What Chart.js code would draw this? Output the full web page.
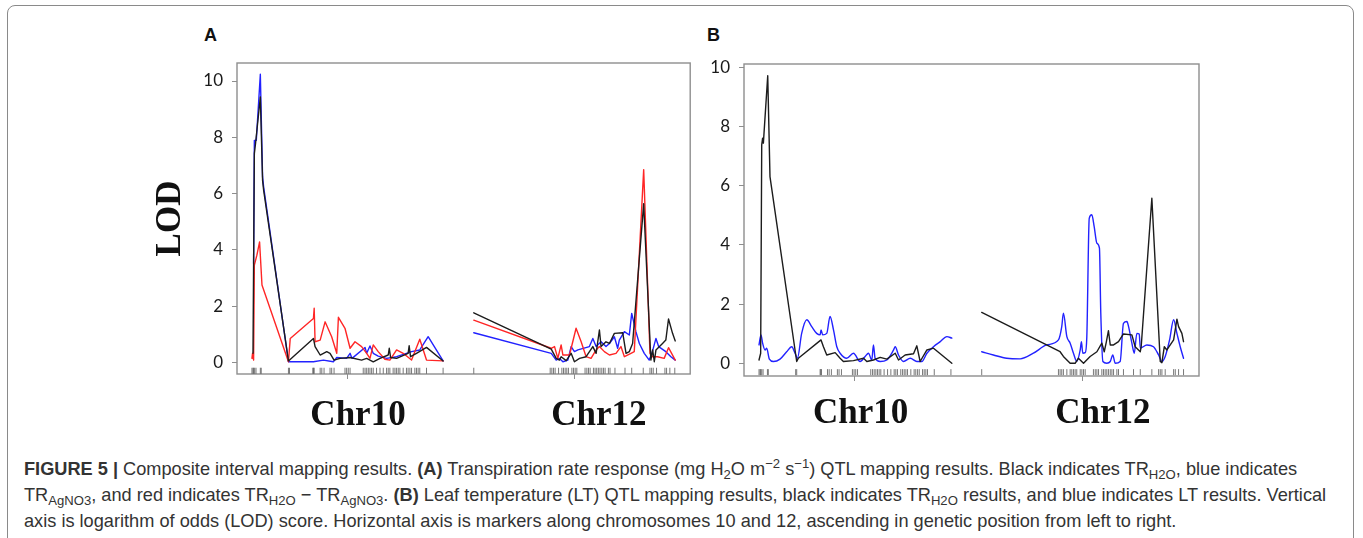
<!DOCTYPE html>
<html>
<head>
<meta charset="utf-8">
<script src="https://cdn.jsdelivr.net/npm/chart.js@4.4.1/dist/chart.umd.min.js"></script>
<style>
  html, body { margin: 0; padding: 0; background: #fff; }
  body { width: 1363px; height: 538px; position: relative; overflow: hidden; }
  #frame { position: absolute; left: 7px; top: 5px; width: 1345px; height: 600px;
           border: 1.5px solid #8a8a8a; border-radius: 8px; }
  .panel-tag { position: absolute; font: bold 18px "Liberation Sans", Arial, sans-serif; color: #111; }
  canvas { position: absolute; }
  #caption { position: absolute; left: 24px; top: 457px; font-family: "Liberation Sans", Arial, sans-serif;
             font-size: 18.2px; color: #333; line-height: 25.8px; white-space: nowrap; }
  #caption sub, #caption sup { font-size: 0.72em; line-height: 0; }
  #caption sub { vertical-align: -0.3em; }
  #caption sup { vertical-align: 0.55em; }
</style>
</head>
<body>
<div id="frame"></div>
<div class="panel-tag" style="left:204px; top:25px;">A</div>
<div class="panel-tag" style="left:707px; top:25px;">B</div>
<canvas id="chartA" width="545" height="400" style="left:150px; top:40px;"></canvas>
<canvas id="chartB" width="510" height="400" style="left:695px; top:40px;"></canvas>
<div id="caption">
  <div><b>FIGURE 5 |</b> Composite interval mapping results. <b>(A)</b> Transpiration rate response (mg H<sub>2</sub>O m<sup>−2</sup> s<sup>−1</sup>) QTL mapping results. Black indicates TR<sub>H2O</sub>, blue indicates</div>
  <div>TR<sub>AgNO3</sub>, and red indicates TR<sub>H2O</sub> − TR<sub>AgNO3</sub>. <b>(B)</b> Leaf temperature (LT) QTL mapping results, black indicates TR<sub>H2O</sub> results, and blue indicates LT results. Vertical</div>
  <div>axis is logarithm of odds (LOD) score. Horizontal axis is markers along chromosomes 10 and 12, ascending in genetic position from left to right.</div>
</div>
<script>
// marker positions along each chromosome (cM)
var chr10Markers = [0, 0.7, 1.1, 1.8, 2.7, 5.6, 6.2, 24.4, 25.1, 40.7, 41.1, 41.6, 45.6, 46.7, 48.2, 52.2, 53.3, 54.9, 62.2, 63.3, 64.4, 65.6, 74.4, 75.6, 76.7, 77.8, 78.9, 80.0, 81.1, 83.3, 85.6, 87.8, 90.0, 91.1, 92.2, 94.4, 95.6, 96.7, 97.8, 98.9, 101.1, 103.3, 104.4, 105.6, 106.7, 108.9, 110.0, 111.1, 112.2, 116.7, 127.8];
var chr12Markers = [0, 51.1, 52.2, 53.3, 54.4, 56.7, 58.9, 60.0, 61.1, 62.2, 63.3, 65.6, 66.7, 67.8, 68.9, 74.4, 75.6, 76.7, 77.8, 80.0, 81.1, 82.2, 83.3, 84.4, 85.6, 86.7, 87.8, 90.0, 91.1, 94.4, 101.1, 105.6, 113.3, 117.8, 118.9, 120.0, 122.2, 127.8, 128.9, 131.1, 134.4];
var chrNames = ['Chr10', 'Chr12'];
var chr10Length = 127.8;
var chr12Length = 134.7;
var lodTicks = [0, 2, 4, 6, 8, 10];
// where the chromosome names sit on the position axis in each panel
var chrLabelPosA = [70.9, 231.9];
var chrLabelPosB = [67.7, 229.0];

// Panel A: TR H2O (black), TR AgNO3 (blue), TR H2O - TR AgNO3 (red)
var aBlack10Pos = [0.7, 1.6, 2.4, 5.6, 7.1, 7.8, 24.4, 41.1, 42.2, 45.6, 50.0, 52.2, 54.9, 58.9, 65.6, 73.3, 76.7, 81.1, 85.6, 91.1, 91.8, 92.7, 96.7, 104.4, 105.1, 106.0, 110.0, 116.7, 127.8];
var aBlack10Lod = [0.32, 7.42, 7.78, 9.43, 6.47, 6.12, 0.05, 0.85, 0.56, 0.26, 0.38, 0.32, 0.08, 0.14, 0.17, 0.08, 0.14, 0.02, 0.14, 0.26, 0.50, 0.17, 0.14, 0.32, 0.59, 0.20, 0.32, 0.53, 0.05];
var aBlue10Pos = [1.1, 1.6, 2.9, 5.6, 7.1, 7.8, 24.4, 41.1, 47.8, 54.4, 56.7, 63.3, 65.6, 66.9, 75.6, 76.7, 78.9, 81.1, 84.4, 90.0, 96.7, 103.3, 106.7, 112.2, 117.8, 127.8];
var aBlue10Lod = [3.51, 7.89, 7.89, 10.24, 6.59, 6.24, 0.02, 0.02, 0.08, 0.02, 0.17, 0.14, 0.32, 0.14, 0.53, 0.32, 0.58, 0.32, 0.22, 0.14, 0.20, 0.32, 0.38, 0.44, 0.91, 0.05];
var aRed10Pos = [0, 0.4, 1.1, 1.6, 3.3, 5.1, 6.7, 24.4, 25.6, 41.1, 41.6, 42.2, 45.6, 48.9, 53.3, 56.7, 57.8, 62.2, 65.6, 68.9, 73.3, 76.7, 78.9, 81.1, 84.4, 88.9, 92.2, 96.7, 101.1, 106.7, 112.2, 116.7, 127.8];
var aRed10Lod = [0.14, 0.32, 0.08, 3.46, 3.81, 4.28, 2.75, 0.02, 0.85, 1.56, 1.92, 0.73, 0.79, 1.44, 0.91, 0.32, 1.60, 1.21, 0.50, 0.73, 0.56, 0.32, 0.14, 0.62, 0.38, 0.11, 0.08, 0.44, 0.32, 0.08, 0.82, 0.08, 0.05];
var aBlack12Pos = [0, 51.8, 55.1, 57.3, 58.4, 61.8, 65.1, 67.3, 70.7, 75.1, 79.6, 81.8, 84.0, 85.1, 88.4, 90.7, 94.0, 99.6, 101.8, 104.0, 106.2, 113.6, 118.4, 119.6, 120.7, 121.8, 126.2, 128.4, 130.2, 132.9, 134.7];
var aBlack12Lod = [1.76, 0.47, 0.14, 0.08, 0.20, 0.06, 0.32, 0.02, 0.14, 0.20, 0.56, 0.32, 1.15, 0.56, 0.73, 0.67, 1.03, 1.05, 0.32, 0.38, 0.67, 5.64, 0.08, 0.44, 0.02, 0.44, 0.67, 0.79, 1.54, 1.03, 0.76];
var aRed12Pos = [0, 51.8, 54.0, 56.2, 58.4, 59.6, 64.0, 68.4, 71.8, 75.1, 78.4, 81.8, 84.0, 87.3, 90.7, 95.1, 98.4, 100.7, 105.1, 107.3, 113.6, 117.8, 119.6, 122.9, 127.3, 130.2, 134.7];
var aRed12Lod = [1.50, 0.50, 0.56, 0.14, 0.62, 0.26, 0.26, 1.21, 0.73, 0.20, 0.14, 0.44, 0.56, 0.38, 0.26, 0.32, 0.56, 0.20, 0.32, 0.38, 6.85, 0.32, 0.20, 0.20, 0.14, 0.52, 0.08];
var aBlue12Pos = [0, 51.8, 55.1, 57.3, 59.6, 62.9, 65.1, 67.3, 69.6, 77.3, 79.6, 81.8, 85.1, 88.4, 90.7, 94.0, 96.2, 97.3, 100.7, 104.0, 105.6, 108.4, 110.7, 114.0, 117.3, 119.1, 121.8, 123.6, 128.4, 131.8, 134.7];
var aBlue12Lod = [1.05, 0.32, 0.08, 0.14, 0.02, 0.08, 0.56, 0.38, 0.44, 0.56, 0.85, 0.56, 0.73, 0.56, 0.67, 0.91, 0.50, 0.79, 1.09, 0.97, 1.74, 1.09, 0.67, 0.32, 0.08, 0.32, 0.85, 0.56, 0.38, 0.20, 0.08];

// Panel B: TR H2O (black), leaf temperature (blue)
var bBlack10Pos = [0, 1.1, 1.8, 2.4, 2.9, 5.8, 7.3, 25.1, 26.2, 41.3, 42.9, 45.1, 50.7, 54.0, 56.2, 62.9, 69.6, 71.8, 76.2, 80.7, 85.1, 90.7, 92.9, 97.3, 102.9, 105.1, 107.3, 111.8, 116.2, 128.4];
var bBlack10Lod = [0.11, 0.34, 7.38, 7.61, 7.44, 9.72, 6.31, 0.06, 0.17, 0.79, 0.56, 0.28, 0.36, 0.17, 0.06, 0.09, 0.17, 0.06, 0.11, 0.20, 0.14, 0.34, 0.11, 0.28, 0.32, 0.59, 0.06, 0.45, 0.51, 0.0];
var bBlue10Pos = [0, 1.3, 2.4, 4.0, 5.1, 6.9, 9.6, 14.0, 18.4, 21.8, 24.0, 25.6, 28.4, 31.8, 35.1, 38.4, 40.7, 41.3, 42.4, 45.1, 47.3, 49.6, 51.8, 54.0, 58.4, 62.9, 67.3, 70.7, 72.9, 75.1, 76.2, 77.3, 80.7, 85.1, 89.6, 90.7, 92.9, 96.2, 100.7, 105.1, 108.4, 111.8, 116.2, 120.7, 125.1, 128.4];
var bBlue10Lod = [0.62, 0.96, 0.68, 0.45, 0.51, 0.14, 0.06, 0.14, 0.39, 0.56, 0.34, 0.17, 1.01, 1.47, 1.24, 1.01, 0.96, 1.13, 0.96, 1.01, 1.58, 1.13, 0.56, 0.34, 0.17, 0.34, 0.06, 0.23, 0.34, 0.11, 0.62, 0.17, 0.06, 0.11, 0.45, 0.56, 0.28, 0.06, 0.17, 0.06, 0.06, 0.34, 0.56, 0.73, 0.90, 0.85];
var bBlack12Pos = [0, 52.2, 54.4, 58.9, 62.2, 64.4, 67.8, 72.2, 76.7, 80.0, 81.6, 82.9, 84.4, 85.6, 87.8, 91.1, 94.4, 100.0, 102.2, 105.6, 106.2, 113.3, 118.9, 120.0, 121.6, 123.3, 127.8, 130.0, 131.1, 133.3, 134.4];
var bBlack12Lod = [1.72, 0.39, 0.23, 0, 0, 0.17, 0, 0.23, 0.39, 0.68, 0.39, 0.70, 1.10, 0.62, 0.62, 0.73, 0.99, 0.96, 0.56, 0.39, 0.56, 5.58, 0.06, 0.02, 0.56, 0.45, 0.79, 1.49, 1.24, 1.01, 0.73];
var bBlue12Pos = [0, 7.8, 16.7, 25.6, 34.4, 43.3, 51.1, 53.3, 54.4, 56.7, 58.9, 61.1, 63.3, 65.6, 66.4, 67.3, 68.9, 70.0, 71.6, 73.3, 74.9, 76.7, 78.4, 79.3, 80.7, 83.3, 85.6, 87.3, 88.9, 92.2, 94.4, 96.7, 97.8, 100.0, 101.6, 103.3, 104.9, 105.6, 110.0, 114.4, 117.8, 120.0, 122.2, 125.1, 127.8, 130.0, 132.2, 134.4];
var bBlue12Lod = [0.39, 0.28, 0.17, 0.15, 0.34, 0.62, 0.79, 1.24, 1.69, 0.90, 0.68, 0.34, 0.06, 0.45, 0.73, 0.34, 0.36, 0.90, 4.90, 5.02, 4.62, 4.06, 3.89, 1.69, 0.06, 0, 0.06, 0.28, 0, 0.06, 1.35, 1.41, 1.24, 0.68, 0.34, 1.01, 0.99, 0.51, 0.62, 0.56, 0.28, 0.06, 0.23, 0.79, 1.47, 1.01, 0.56, 0.17];

// chr12 is drawn after chr10 with a gap, like the qtl plot does
var CHR12_OFFSET = 148.3;
var X_MIN = -10, X_MAX = 293;
var BLACK = '#1c1c1c', BLUE = '#2222ff', RED = '#ff2626';
var AXIS_GREY = '#8e8e8e';
var serifBold = {family: 'Liberation Serif', size: 35, weight: 'bold'};

function toPoints(pos, lod, offset) {
    return pos.map(function (p, i) { return {x: p + offset, y: lod[i]}; });
}

function lodLine(pos10, lod10, pos12, lod12, color, smooth) {
    // one dataset for each chromosome so the gap is not joined
    return [
        {data: toPoints(pos10, lod10, 0), borderColor: color, borderWidth: 1.4, pointRadius: 0,
         tension: smooth ? 0.4 : 0, cubicInterpolationMode: smooth ? 'monotone' : 'default'},
        {data: toPoints(pos12, lod12, CHR12_OFFSET), borderColor: color, borderWidth: 1.4, pointRadius: 0,
         tension: smooth ? 0.4 : 0, cubicInterpolationMode: smooth ? 'monotone' : 'default'}
    ];
}

function rugData(yVal) {
    var pts = chr10Markers.map(function (p) { return {x: p, y: yVal}; });
    return pts.concat(chr12Markers.map(function (p) { return {x: p + CHR12_OFFSET, y: yVal}; }));
}

var boxFrame = {
    id: 'boxFrame',
    beforeDatasetsDraw: function (chart) {
        var a = chart.chartArea, ctx = chart.ctx;
        ctx.save();
        ctx.strokeStyle = AXIS_GREY;
        ctx.lineWidth = 1.4;
        ctx.strokeRect(a.left, a.top, a.right - a.left, a.bottom - a.top);
        ctx.restore();
    }
};

function makePanel(id, lines, p) {
    var rug = {type: 'scatter', data: rugData(p.rugY), showLine: false, pointStyle: 'line',
               rotation: 90, radius: 3, borderColor: '#555', borderWidth: 0.8};
    var chrCenters = [chr10Length / 2, CHR12_OFFSET + chr12Length / 2];
    return new Chart(document.getElementById(id), {
        type: 'line',
        data: {datasets: lines.concat([rug])},
        options: {
            responsive: false,
            animation: false,
            devicePixelRatio: 1,
            layout: {padding: {top: p.padTop, right: p.padRight, left: 0, bottom: 0}},
            plugins: {legend: {display: false}, tooltip: {enabled: false}},
            elements: {line: {borderJoinStyle: 'round', borderCapStyle: 'round'}},
            scales: {
                // small tick marks at the middle of each chromosome
                x: {
                    type: 'linear', min: X_MIN, max: X_MAX, position: 'bottom', weight: 0,
                    afterBuildTicks: function (s) { s.ticks = chrCenters.map(function (v) { return {value: v}; }); },
                    afterFit: function (s) { s.height = 6; },
                    grid: {drawOnChartArea: false, tickLength: 5, color: AXIS_GREY},
                    border: {display: false},
                    ticks: {display: false}
                },
                // chromosome names
                xName: {
                    type: 'linear', min: X_MIN, max: X_MAX, position: 'bottom', weight: 1,
                    afterBuildTicks: function (s) { s.ticks = p.labelPos.map(function (v) { return {value: v}; }); },
                    afterFit: function (s) { s.height = p.xHeight - 6; },
                    grid: {display: false, drawTicks: false},
                    border: {display: false},
                    ticks: {autoSkip: false, maxRotation: 0, padding: p.xPad, color: '#111', font: serifBold,
                            callback: function (v, i) { return chrNames[i]; }}
                },
                y: {
                    min: p.yMin, max: p.yMax,
                    afterBuildTicks: function (s) { s.ticks = lodTicks.map(function (v) { return {value: v}; }); },
                    afterFit: function (s) { s.width = p.yWidth; },
                    grid: {drawOnChartArea: false, tickLength: 5, color: AXIS_GREY},
                    border: {display: false},
                    ticks: {padding: 9, color: '#1a1a1a', font: {family: 'Lato', size: 17}},
                    title: {display: p.title, text: 'LOD', padding: 0, color: '#111', font: serifBold}
                }
            }
        },
        plugins: [boxFrame]
    });
}

var linesA = [].concat(
    lodLine(aBlack10Pos, aBlack10Lod, aBlack12Pos, aBlack12Lod, BLACK, false),
    lodLine(aRed10Pos, aRed10Lod, aRed12Pos, aRed12Lod, RED, false),
    lodLine(aBlue10Pos, aBlue10Lod, aBlue12Pos, aBlue12Lod, BLUE, false)
);
var linesB = [].concat(
    lodLine(bBlack10Pos, bBlack10Lod, bBlack12Pos, bBlack12Lod, BLACK, false),
    lodLine(bBlue10Pos, bBlue10Lod, bBlue12Pos, bBlue12Lod, BLUE, true)
);

makePanel('chartA', linesA, {yMin: -0.415, yMax: 10.64, padTop: 23, padRight: 4, yWidth: 87, xHeight: 66,
                             xPad: 15, rugY: -0.3, title: true, labelPos: chrLabelPosA});
makePanel('chartB', linesB, {yMin: -0.43, yMax: 10.115, padTop: 24, padRight: 6, yWidth: 49, xHeight: 64,
                             xPad: 11, rugY: -0.3, title: false, labelPos: chrLabelPosB});
</script>
</body>
</html>
